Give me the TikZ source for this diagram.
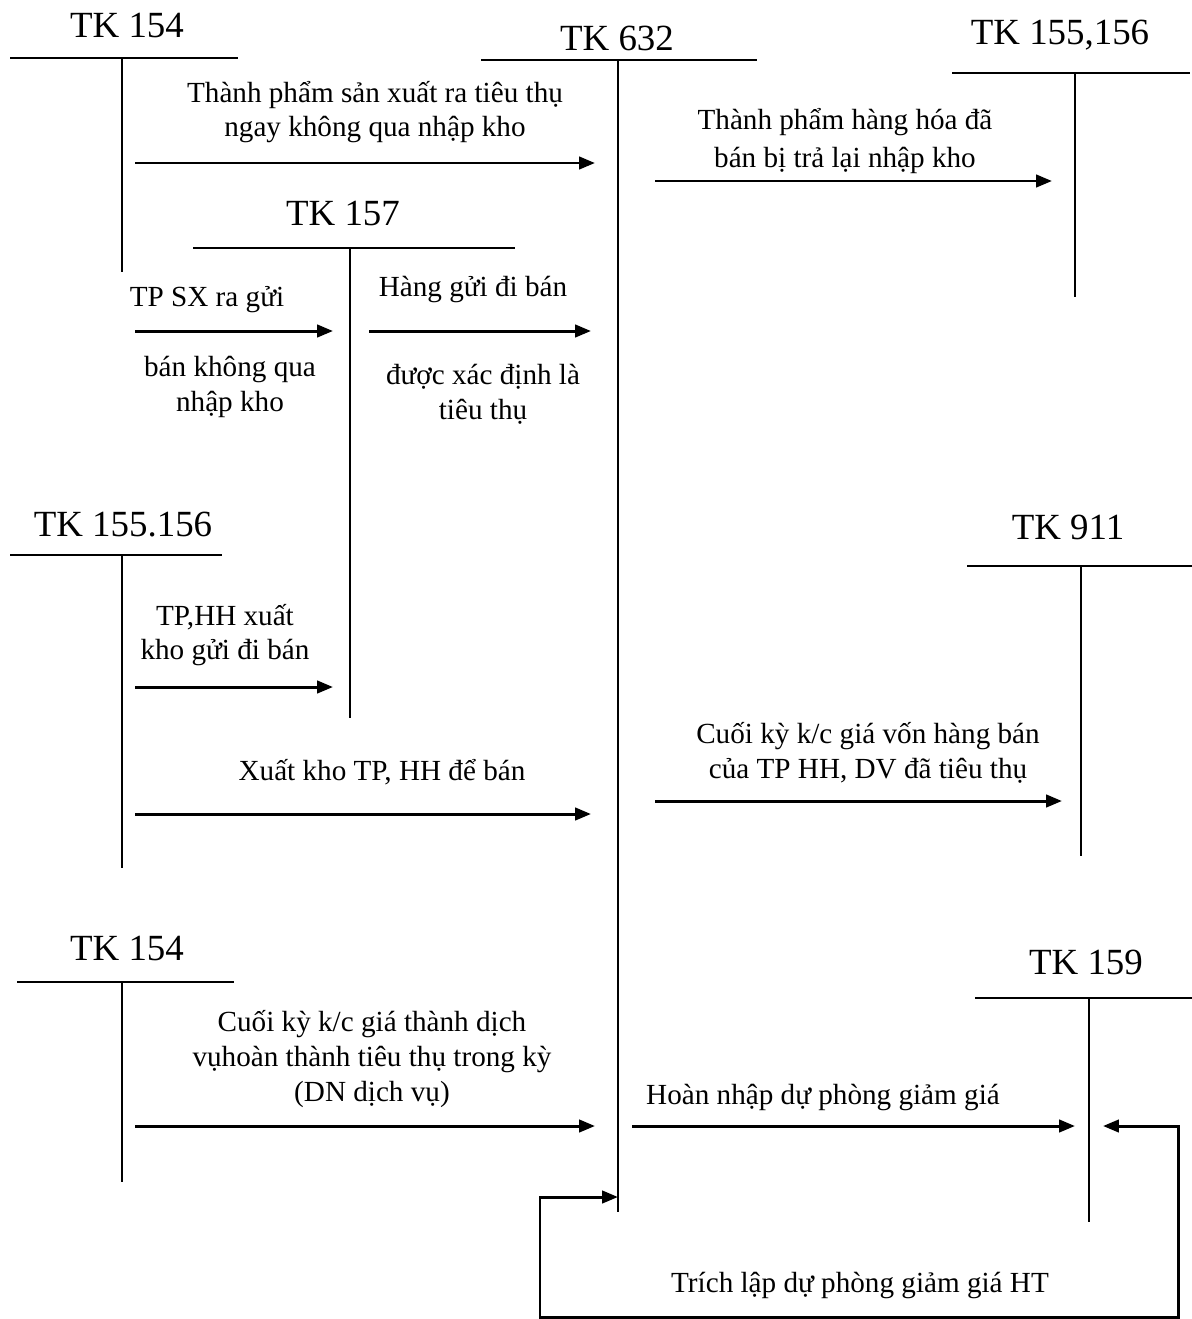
\documentclass[tikz,border=0pt]{standalone}
\usepackage{fontspec}
\setmainfont{Liberation Serif}
\usetikzlibrary{arrows.meta,positioning}

\begin{document}
\begin{tikzpicture}[x=0.02cm, y=-0.02cm,
    acct/.style={font=\fontsize{21}{24}\selectfont, inner sep=0pt},
    note/.style={font=\fontsize{16.6}{19.8}\selectfont, align=center, inner sep=0pt},
    tline/.style={line width=1.3pt},
    flow/.style={line width=1.7pt, -{Triangle[length=9pt,width=7pt]}},
    backflow/.style={line width=1.7pt, {Triangle[length=9pt,width=7pt]}-{Triangle[length=9pt,width=7pt]}}]
    \useasboundingbox (0,0) rectangle (1192,1319);
    % T accounts: name / label x / label y / label / bar left / bar right / bar y / stem x / stem end
    \foreach \n/\lx/\ly/\txt/\hl/\hr/\hy/\vx/\vb in {
        ka/127/25/{TK 154}/10/238/58/122/272,
        kb/617/38/{TK 632}/481/757/60/618/1212,
        kc/1060/35/{TK 155,156}/952/1190/73/1075/297,
        kd/343/213/{TK 157}/193/515/248/350/718,
        ke/123/525/{TK 155.156}/10/222/555/122/868,
        kf/1068/527/{TK 911}/967/1192/566/1081/856,
        kg/127/948/{TK 154}/17/234/982/122/1182,
        kh/1086/962/{TK 159}/975/1192/998/1089/1222} {
        \node[acct] (\n) at (\lx,\ly) {\txt};
        \coordinate (\n-l) at (\hl,\hy);
        \coordinate (\n-r) at (\hr,\hy);
        \coordinate (\n-top) at (\vx,\hy);
        \coordinate (\n-bot) at (\vx,\vb);
        \draw[tline] (\n-l) -- (\n-r) (\n-top) -- (\n-bot);
    }
    % entries
    \foreach \n/\xa/\xb/\yy in {
        fa/135/595/163, fb/655/1052/181, fc/135/333/331, fd/369/591/331,
        fe/135/333/687, ff/135/591/814, fg/655/1062/801, fh/135/595/1126,
        fi/632/1075/1126} {
        \coordinate (\n-s) at (\xa,\yy);
        \coordinate (\n-e) at (\xb,\yy);
        \draw[flow] (\n-s) -- (\n-e);
    }
    % provision loop between TK 159 and TK 632
    \coordinate (lp-a) at (1103,1126);
    \coordinate (lp-b) at (1178,1126);
    \coordinate (lp-c) at (1178,1317);
    \coordinate (lp-d) at (540,1317);
    \coordinate (lp-e) at (540,1197);
    \coordinate (lp-f) at (618,1197);
    \draw[backflow] (lp-a) -- (lp-b) -- (lp-c) -- (lp-d) -- (lp-e) -- (lp-f);
    % labels
    \node[note] (ta) at (375,112) {Thành phẩm sản xuất ra tiêu thụ\\ngay không qua nhập kho};
    \node[note] (tb) at (845,141) {Thành phẩm hàng hóa đã\\[2pt]bán bị trả lại nhập kho};
    \node[note] (tc) at (207,300) {TP SX ra gửi};
    \node[note] (tc2) at (230,387) {bán không qua\\nhập kho};
    \node[note] (td) at (473,290) {Hàng gửi đi bán};
    \node[note] (td2) at (483,394) {được xác định là\\tiêu thụ};
    \node[note] (te) at (225,635) {TP,HH xuất\\kho gửi đi bán};
    \node[note] (tf) at (382,772) {Xuất kho TP, HH để bán};
    \node[note] (tg) at (868,753) {Cuối kỳ k/c giá vốn hàng bán\\của TP HH, DV đã tiêu thụ};
    \node[note] (th) at (372,1059) {Cuối kỳ k/c giá thành dịch\\vụhoàn thành tiêu thụ trong kỳ\\(DN dịch vụ)};
    \node[note] (ti) at (823,1097) {Hoàn nhập dự phòng giảm giá};
    \node[note] (tj) at (860,1285) {Trích lập dự phòng giảm giá HT};
\end{tikzpicture}
\end{document}
